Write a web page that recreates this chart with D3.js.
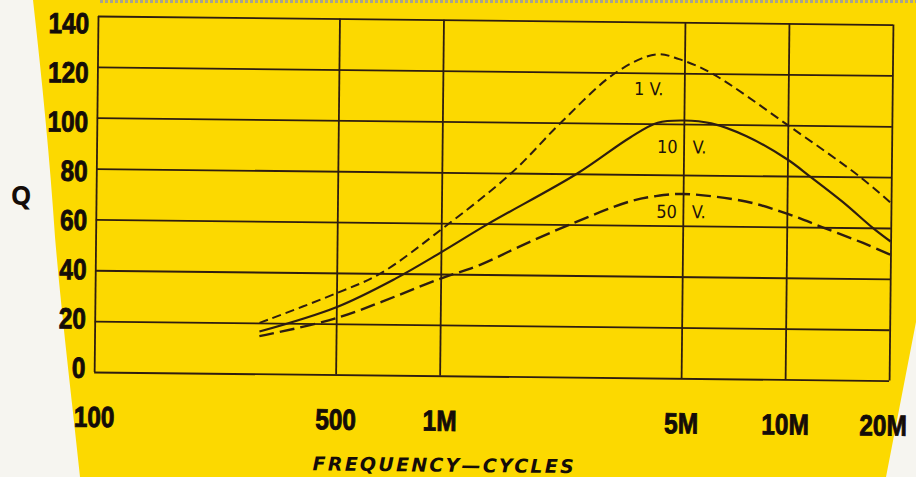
<!DOCTYPE html>
<html>
<head>
<meta charset="utf-8">
<script src="https://cdn.jsdelivr.net/npm/d3@7"></script>
<style>
  html, body { margin: 0; padding: 0; background: #f6f5f0; }
  svg { display: block; }
</style>
</head>
<body>
<svg id="chart" width="916" height="477"></svg>
<script>
// frequency in kc (log axis), Q
const xTicks = [100, 500, 1000, 5000, 10000, 20000];
const xTickLabels = ['100', '500', '1M', '5M', '10M', '20M'];
const yTicks = [0, 20, 40, 60, 80, 100, 120, 140];

const freq1V = [300, 500, 670, 1000, 1590, 2220, 3170, 4140, 4820, 6010, 10000, 16230, 20000];
const q1V = [20, 32, 40, 57.5, 80, 100.5, 120, 127.3, 125.5, 120, 100, 80, 69.8];

const freq10V = [300, 500, 740, 1000, 1370, 2460, 3500, 4200, 5000, 6000, 7600, 10000, 11620, 14520, 17740, 20000];
const q10V = [16.6, 26.5, 38, 48.5, 60, 80, 94.5, 100.4, 101.4, 100.4, 95.5, 86.5, 80, 70, 60, 54.7];

const freq50V = [300, 500, 1000, 1300, 1680, 2355, 3500, 4150, 5000, 7600, 10000, 12700, 16650, 20000];
const q50V = [14.8, 22.2, 38.2, 43.8, 51, 60, 69.3, 71.5, 72.5, 69.8, 65.2, 60, 54, 49.5];

const seriesNames = ['1 V.', '10 V.', '50 V.'];

const W = 795, H = 356;
const INK = '#2e1d10';
const TEXT_INK = '#140c08';

const svg = d3.select('#chart');

// paper: yellow sheet on a pale background
svg.append('rect').attr('width', 916).attr('height', 477).attr('fill', '#f6f5f0');
svg.append('path')
  .attr('d', 'M33,0 C42,80 50,160 55,237 C62,320 72,400 80,477 L886,477 L916,322 L916,0 Z')
  .attr('fill', '#fcd900');
svg.append('line')
  .attr('x1', 100).attr('x2', 916).attr('y1', 1.5).attr('y2', 1.5)
  .attr('stroke', '#a9a48c').attr('stroke-width', 3)
  .attr('stroke-dasharray', '3,2');

// the printed chart sits slightly askew
const g = svg.append('g')
  .attr('transform', 'translate(98,16) rotate(0.62)');

const x = d3.scaleLog().domain([100, 20000]).range([0, W]);
const y = d3.scaleLinear().domain([0, 140]).range([H, 0]);
// tick numbers drift a little against the grid in the print
const yLab = d3.scaleLinear().domain([0, 140]).range([351, 6.6]);

// grid
g.append('g')
  .attr('transform', `translate(0,${H})`)
  .call(d3.axisBottom(x).tickValues(xTicks).tickSize(-H).tickFormat(''))
  .call(s => s.select('.domain').remove())
  .call(s => s.selectAll('line').attr('stroke', INK).attr('stroke-width', 1.8));

g.append('g')
  .call(d3.axisLeft(y).tickValues(yTicks).tickSize(-W).tickFormat(''))
  .call(s => s.select('.domain').remove())
  .call(s => s.selectAll('line').attr('stroke', INK).attr('stroke-width', 1.8));

// heavy condensed numerals: bold face squeezed horizontally
function condensed(sel) {
  sel.attr('fill', TEXT_INK)
    .attr('stroke', TEXT_INK)
    .attr('stroke-width', 0.9)
    .style('font-family', '"Liberation Sans", Arial, sans-serif')
    .style('font-weight', 'bold')
    .style('font-size', '29px')
    .each(function () {
      const w = this.getComputedTextLength();
      d3.select(this).attr('textLength', w * 0.84).attr('lengthAdjust', 'spacingAndGlyphs');
    });
}

// tick labels
g.append('g')
  .attr('transform', `translate(0,${H})`)
  .call(d3.axisBottom(x).tickValues(xTicks).tickSize(0)
    .tickFormat((d, i) => xTickLabels[i]))
  .call(s => s.select('.domain').remove())
  .call(s => s.selectAll('text')
    .attr('y', 55).attr('dy', 0)
    .attr('dx', d => d === 20000 ? -6 : 0)
    .call(condensed));

g.append('g')
  .call(d3.axisLeft(yLab).tickValues(yTicks).tickSize(0).tickPadding(8.7))
  .call(s => s.select('.domain').remove())
  .call(s => s.selectAll('text').attr('dy', '0.36em').call(condensed));

// curves
const series = [
  { name: seriesNames[0], freq: freq1V, q: q1V, dash: '9,5', width: 2 },
  { name: seriesNames[1], freq: freq10V, q: q10V, dash: null, width: 2.2 },
  { name: seriesNames[2], freq: freq50V, q: q50V, dash: '15,6', width: 2.4 }
];

const line = d3.line()
  .x(d => x(d[0]))
  .y(d => y(d[1]))
  .curve(d3.curveCatmullRom.alpha(0.5));

series.forEach(s => {
  g.append('path')
    .datum(s.freq.map((f, i) => [f, s.q[i]]))
    .attr('fill', 'none')
    .attr('stroke', INK)
    .attr('stroke-width', s.width)
    .attr('stroke-dasharray', s.dash)
    .attr('d', line);
});

// curve labels
const labelStyle = sel => sel
  .attr('fill', '#1e120a')
  .style('font-family', '"DejaVu Sans Condensed", sans-serif')
  .style('font-size', '18px');

g.append('text').call(labelStyle)
  .attr('x', x(3580)).attr('y', y(111.2))
  .text(seriesNames[0]);

[[seriesNames[1], 88.5], [seriesNames[2], 63]].forEach(([name, q]) => {
  const parts = name.split(' ');
  g.append('text').call(labelStyle)
    .attr('x', x(5000) - 6).attr('y', y(q))
    .attr('text-anchor', 'end')
    .text(parts[0]);
  g.append('text').call(labelStyle)
    .attr('x', x(5000) + 9).attr('y', y(q))
    .text(parts[1]);
});

// axis titles
g.append('text')
  .attr('x', 350).attr('y', 452)
  .attr('text-anchor', 'middle')
  .attr('textLength', 261)
  .attr('lengthAdjust', 'spacing')
  .attr('fill', TEXT_INK)
  .style('font-family', '"DejaVu Sans", sans-serif')
  .style('font-weight', 'bold')
  .style('font-style', 'italic')
  .style('font-size', '19px')
  .text('FREQUENCY—CYCLES');

svg.append('text')
  .attr('x', 21).attr('y', 205)
  .attr('text-anchor', 'middle')
  .attr('fill', TEXT_INK)
  .style('font-family', '"Open Sans", sans-serif')
  .style('font-weight', 700)
  .style('font-size', '26px')
  .text('Q');
</script>
</body>
</html>
